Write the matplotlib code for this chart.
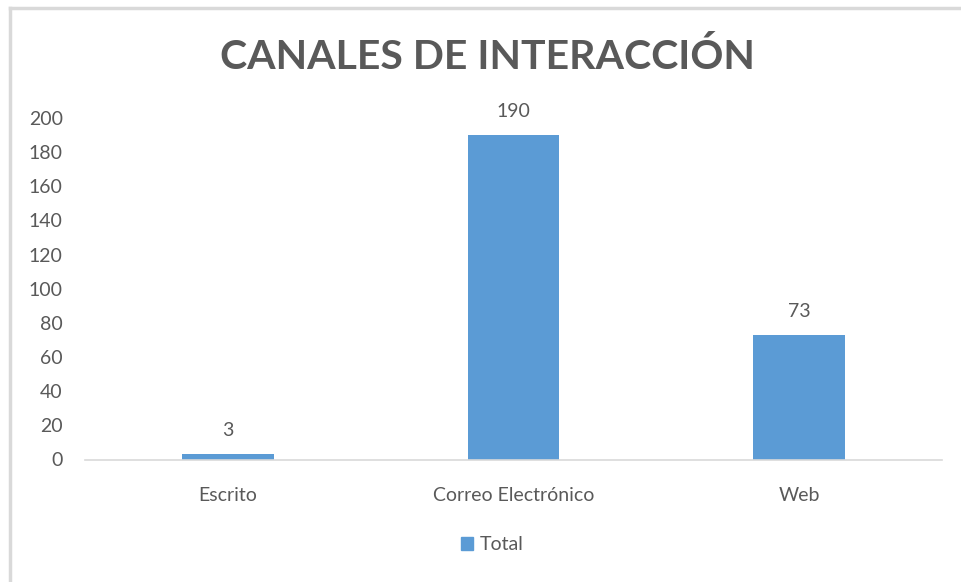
import matplotlib
matplotlib.use("Agg")
import matplotlib.pyplot as plt
from matplotlib.lines import Line2D
from matplotlib.patches import Patch

categories = ["Escrito", "Correo Electrónico", "Web"]
values = [3, 190, 73]
series_name = "Total"
title = "CANALES DE INTERACCIÓN"
yticks = [0, 20, 40, 60, 80, 100, 120, 140, 160, 180, 200]

plt.rcParams['font.family'] = ['Lato', 'DejaVu Sans']
TXT = "#595959"
BAR = "#5b9bd5"
GRID = "#d9d9d9"

fig = plt.figure(figsize=(9.61, 5.82), dpi=100)
ax = fig.add_axes([85/961, 1-459.5/582, (942-85)/961, (459.5-118)/582])

x = list(range(len(categories)))
bars = ax.bar(x, values, width=0.32, color=BAR, zorder=2)
ax.set_xlim(-0.5, len(categories)-0.5)
ax.set_ylim(0, 200)
ax.set_yticks(yticks)
ax.set_yticklabels([str(t) for t in yticks], fontsize=14, color=TXT)
ax.set_xticks(x)
ax.set_xticklabels(categories, fontsize=14, color=TXT)
ax.tick_params(axis='y', length=0, pad=16)
ax.tick_params(axis='x', length=0, pad=20)
for s in ["top", "right", "left"]:
    ax.spines[s].set_visible(False)
ax.spines["bottom"].set_color(GRID)
ax.spines["bottom"].set_linewidth(1.2)

for b, v in zip(bars, values):
    ax.annotate(str(v), (b.get_x()+b.get_width()/2, v), xytext=(0, 11),
                textcoords="offset points", ha="center", va="bottom",
                fontsize=14, color=TXT)

fig.text(487/961, 1-57/582, title, ha="center", va="center",
         fontsize=29.5, fontweight="bold", color=TXT)

leg = fig.legend(handles=[Patch(color=BAR, label=series_name)],
                 loc="center", bbox_to_anchor=(492/961, 1-545/582),
                 frameon=False, fontsize=14, handlelength=0.65, handleheight=0.65,
                 handletextpad=0.3, labelcolor=TXT)

# chart border (top and left visible)
fig.add_artist(Line2D([10/961, 1], [1-8/582, 1-8/582], color=GRID, lw=2.5,
                      transform=fig.transFigure))
fig.add_artist(Line2D([10/961, 10/961], [0, 1-8/582], color=GRID, lw=2.5,
                      transform=fig.transFigure))

fig.savefig("out.png", dpi=100, facecolor="white")
